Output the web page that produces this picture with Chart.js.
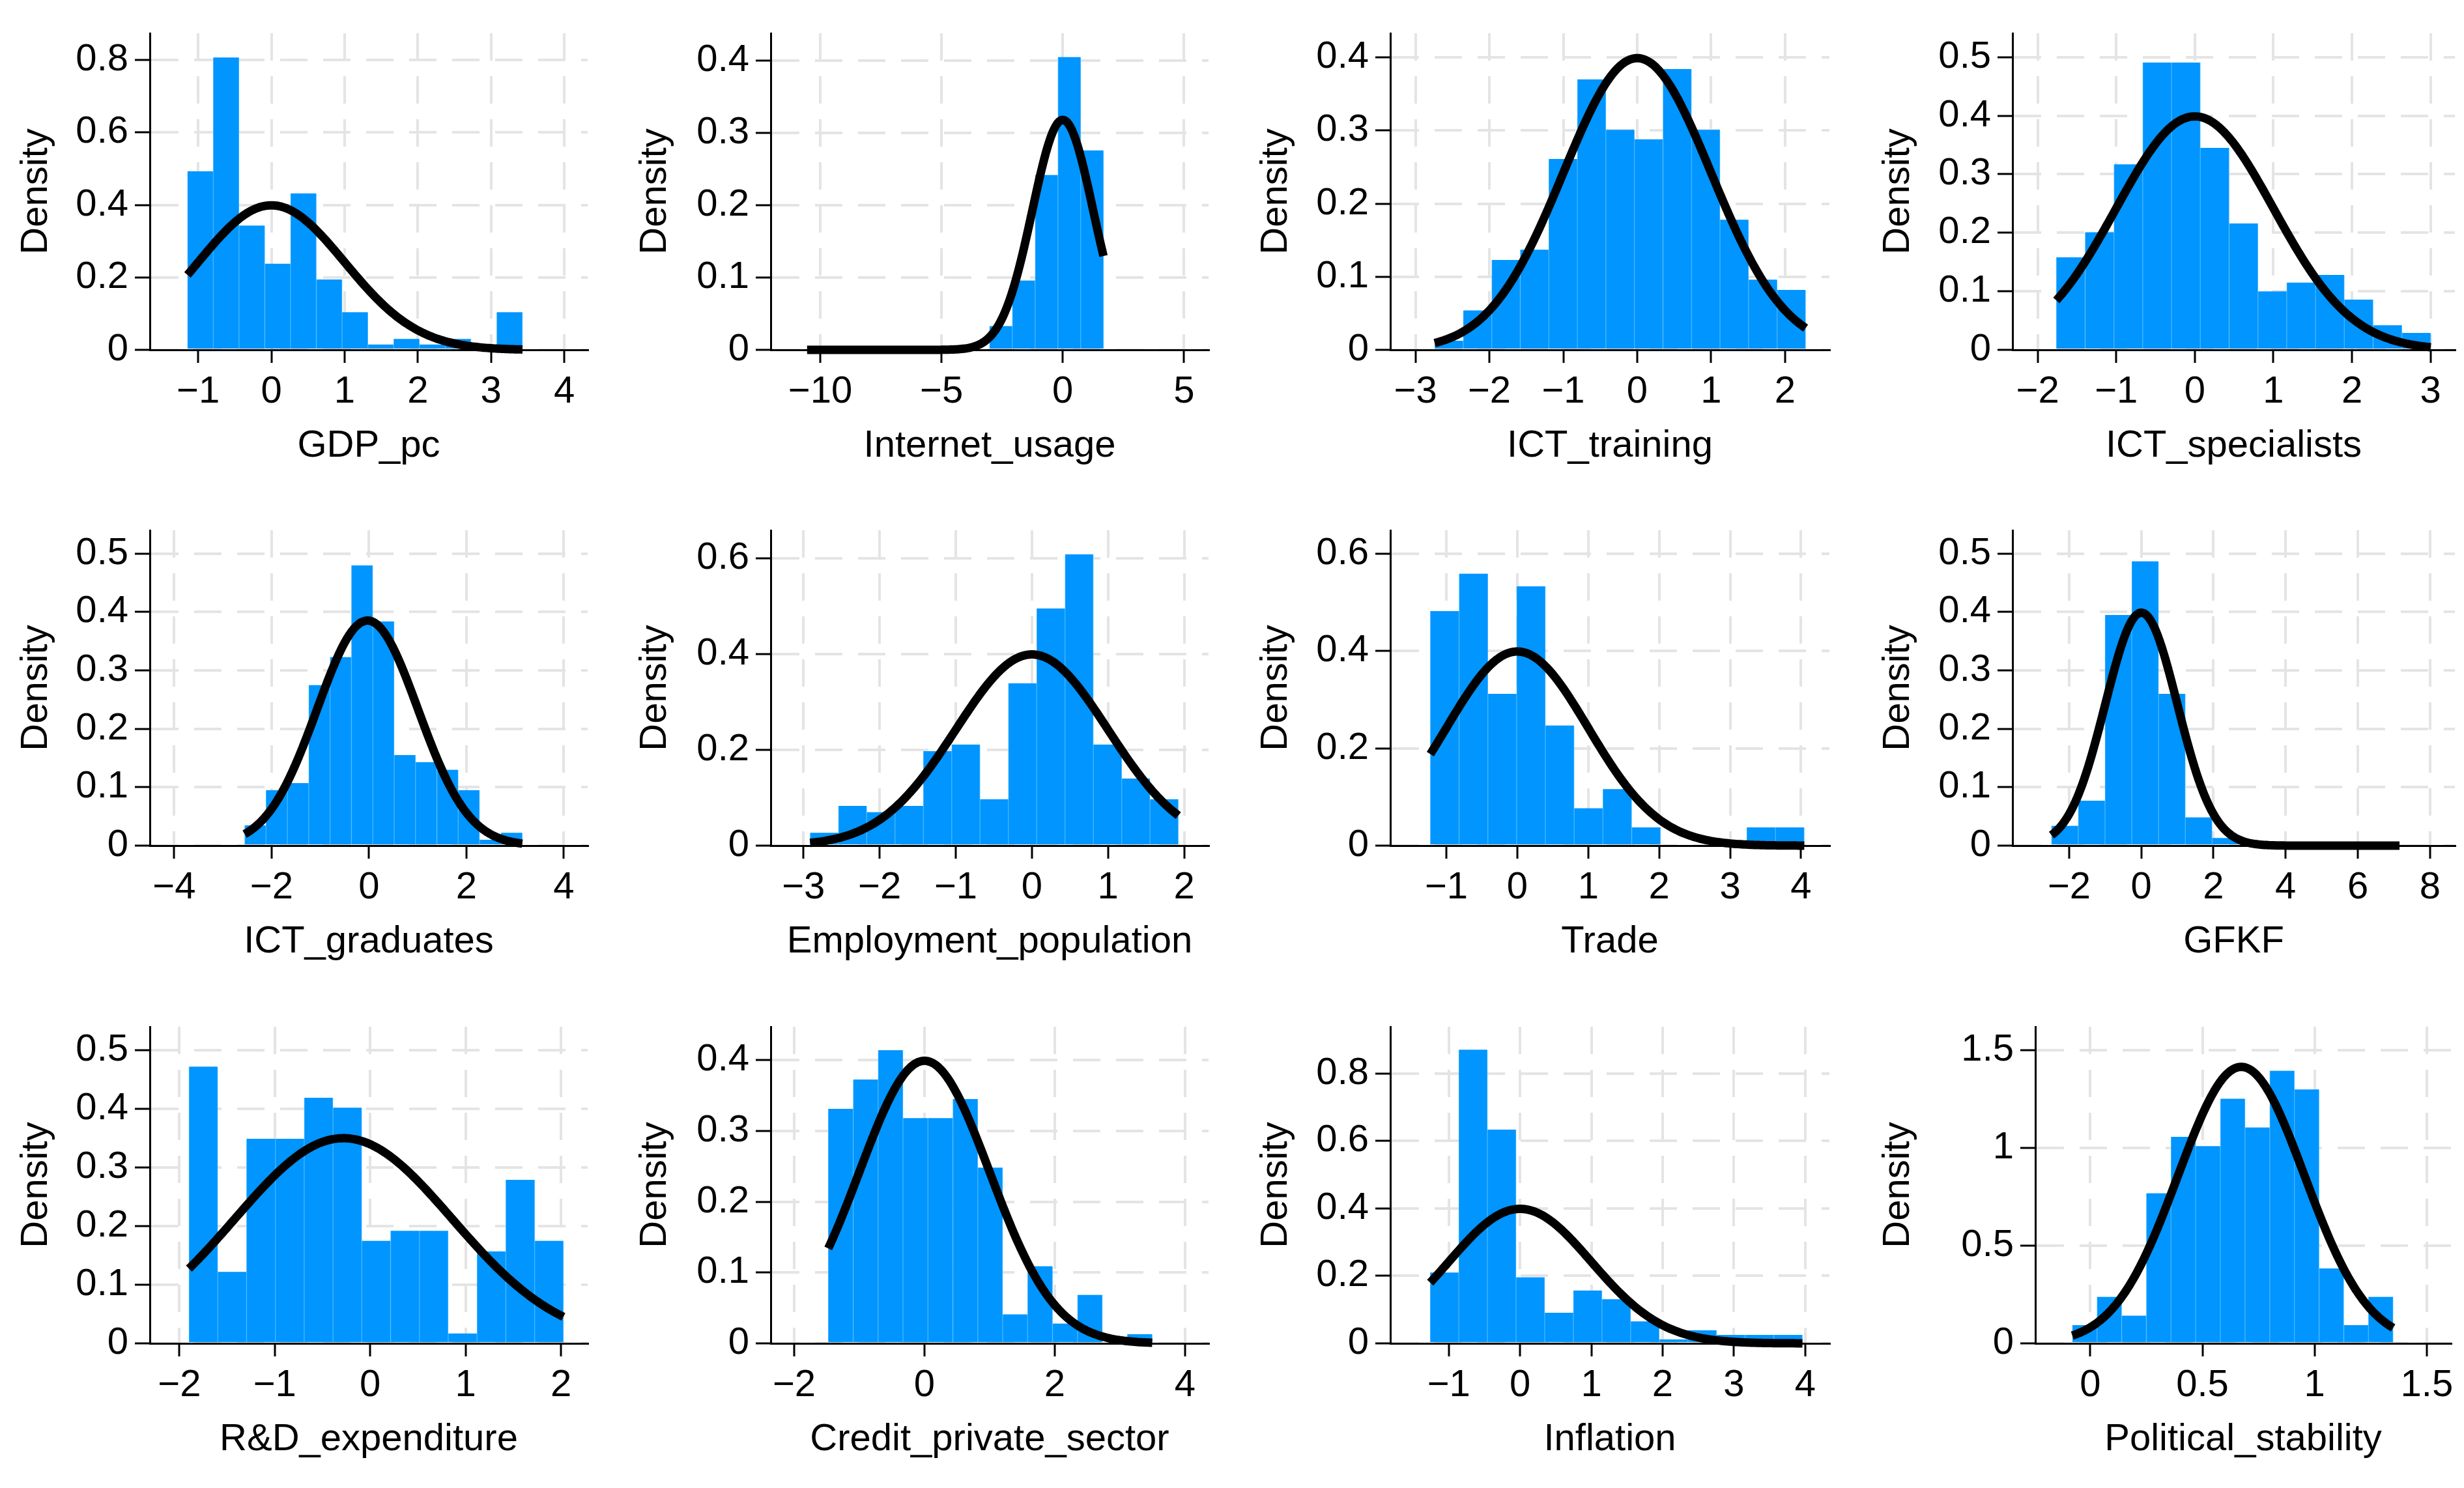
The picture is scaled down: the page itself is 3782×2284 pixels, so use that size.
<!DOCTYPE html>
<html>
<head>
<meta charset="utf-8">
<script src="https://cdn.jsdelivr.net/npm/chart.js@4.4.1/dist/chart.umd.min.js"></script>
<style>
html,body{margin:0;padding:0;background:#fff;}
body{width:3782px;height:2284px;position:relative;overflow:hidden;}
.panel{position:absolute;}
</style>
</head>
<body>
<script>
// ---------------- DATA ----------------
const variableNames = ['GDP_pc','Internet_usage','ICT_training','ICT_specialists',
  'ICT_graduates','Employment_population','Trade','GFKF',
  'R&D_expenditure','Credit_private_sector','Inflation','Political_stability'];

// histogram bins: first edge and bin width (data units), 13 bins each
const binStart = [-1.146, -10.54, -2.74, -1.762, -2.553, -2.913, -1.226, -2.49, -1.90, -1.477, -1.261, -0.080];
const binWidth = [0.352, 0.94, 0.386, 0.3665, 0.4385, 0.372, 0.4055, 0.742, 0.302, 0.3825, 0.4017, 0.110];

// bin densities
const densGDP         = [0.493, 0.807, 0.343, 0.238, 0.432, 0.194, 0.104, 0.015, 0.030, 0.015, 0.030, 0, 0.104];
const densInternet    = [0.0047, 0, 0, 0, 0, 0, 0, 0, 0.033, 0.096, 0.242, 0.405, 0.276];
const densTraining    = [0.0125, 0.054, 0.123, 0.137, 0.261, 0.370, 0.301, 0.288, 0.384, 0.301, 0.178, 0.096, 0.082];
const densSpecialists = [0.158, 0.201, 0.317, 0.491, 0.491, 0.345, 0.216, 0.100, 0.115, 0.128, 0.086, 0.042, 0.029];
const densGraduates   = [0.035, 0.095, 0.107, 0.275, 0.323, 0.480, 0.384, 0.155, 0.143, 0.130, 0.095, 0.010, 0.022];
const densEmployment  = [0.027, 0.083, 0.070, 0.083, 0.197, 0.211, 0.097, 0.339, 0.495, 0.608, 0.211, 0.140, 0.097];
const densTrade       = [0.482, 0.559, 0.312, 0.533, 0.247, 0.077, 0.116, 0.0375, 0, 0, 0.010, 0.0375, 0.0375];
const densGFKF        = [0.034, 0.077, 0.395, 0.487, 0.260, 0.0485, 0.013, 0, 0, 0, 0, 0, 0.004];
const densRD          = [0.472, 0.122, 0.349, 0.349, 0.419, 0.402, 0.175, 0.192, 0.192, 0.017, 0.157, 0.279, 0.175];
const densCredit      = [0.331, 0.3725, 0.414, 0.318, 0.318, 0.345, 0.248, 0.041, 0.109, 0.028, 0.0685, 0, 0.013];
const densInflation   = [0.210, 0.871, 0.634, 0.196, 0.091, 0.157, 0.131, 0.065, 0.012, 0.039, 0.025, 0.025, 0.025];
const densPolitical   = [0.093, 0.238, 0.142, 0.768, 1.057, 1.009, 1.252, 1.105, 1.395, 1.299, 0.383, 0.093, 0.238];

const densities = [densGDP, densInternet, densTraining, densSpecialists, densGraduates, densEmployment,
  densTrade, densGFKF, densRD, densCredit, densInflation, densPolitical];

// fitted normal overlay parameters (mean, sd)
const normalMean = [0, 0, 0, 0, -0.03, 0, 0, 0, -0.28, 0, 0, 0.673];
const normalSD   = [1, 1.254, 1, 1, 1.035, 1, 1, 1, 1.14, 1, 1, 0.282];

// tick values
const xTicks = [
  [-1,0,1,2,3,4], [-10,-5,0,5], [-3,-2,-1,0,1,2], [-2,-1,0,1,2,3],
  [-4,-2,0,2,4], [-3,-2,-1,0,1,2], [-1,0,1,2,3,4], [-2,0,2,4,6,8],
  [-2,-1,0,1,2], [-2,0,2,4], [-1,0,1,2,3,4], [0,0.5,1,1.5]
];
const yTicks = [
  [0,0.2,0.4,0.6,0.8], [0,0.1,0.2,0.3,0.4], [0,0.1,0.2,0.3,0.4], [0,0.1,0.2,0.3,0.4,0.5],
  [0,0.1,0.2,0.3,0.4,0.5], [0,0.2,0.4,0.6], [0,0.2,0.4,0.6], [0,0.1,0.2,0.3,0.4,0.5],
  [0,0.1,0.2,0.3,0.4,0.5], [0,0.1,0.2,0.3,0.4], [0,0.2,0.4,0.6,0.8], [0,0.5,1,1.5]
];
const yAxisTitle = 'Density';

// ---------------- SCALE LIMITS & LAYOUT ----------------
const xMin = [-1.66, -12.04, -3.34, -2.32, -4.50, -3.43, -1.79, -3.57, -2.31, -2.36, -1.82, -0.245];
const xMax = [4.32, 6.01, 2.60, 3.31, 4.49, 2.32, 4.40, 8.69, 2.28, 4.36, 4.34, 1.608];
const yMax = [0.874, 0.438, 0.433, 0.541, 0.54, 0.658, 0.648, 0.54, 0.54, 0.447, 0.939, 1.62];

const colTitleX = [56, 1006, 1959, 2914];
const colRight  = [902, 1855, 2808, 3768];
const plotLeft  = [230,1183,2134,3089, 230,1183,2134,3089, 230,1183,2134,3124];
const rowTop    = [51, 814, 1576];
const rowBottom = [537, 1298, 2062];
const PT = 45, PR = 14, XH = 185;

const FONT = {family: "'Liberation Sans', Arial, Helvetica, sans-serif", size: 58, lineHeight: 1};
const BAR_FILL = 'rgb(0,149,255)';
const BAR_EDGE = 'rgb(70,182,255)';
const GRID = '#e4e4e4';

Chart.defaults.color = '#000';

function fmt(v) {
  const s = String(Math.abs(v));
  return v < 0 ? '\u2212' + s : s;
}

for (let i = 0; i < 12; i++) {
  const c = i % 4, r = Math.floor(i / 4);
  const left = Math.round(colTitleX[c] - FONT.size / 2);
  const top = rowTop[r] - PT;
  const width = colRight[c] + PR - left;
  const height = rowBottom[r] + XH - top;
  const YW = plotLeft[i] - left;

  const div = document.createElement('div');
  div.className = 'panel';
  div.style.left = left + 'px';
  div.style.top = top + 'px';
  div.style.width = width + 'px';
  div.style.height = height + 'px';
  const cv = document.createElement('canvas');
  cv.width = width; cv.height = height;
  cv.style.width = width + 'px'; cv.style.height = height + 'px';
  div.appendChild(cv);
  document.body.appendChild(div);

  const dens = densities[i];
  const nb = dens.length;
  const bars = dens.map((d, k) => ({x: binStart[i] + (k + 0.5) * binWidth[i], y: d}));

  const lo = binStart[i], hi = binStart[i] + nb * binWidth[i];
  const mu = normalMean[i], sd = normalSD[i];
  const curve = [];
  const N = 180;
  for (let k = 0; k <= N; k++) {
    const x = lo + (hi - lo) * k / N;
    const z = (x - mu) / sd;
    curve.push({x: x, y: Math.exp(-0.5 * z * z) / (sd * Math.sqrt(2 * Math.PI))});
  }

  const xt = xTicks[i], yt = yTicks[i];

  new Chart(cv, {
    type: 'bar',
    data: {
      datasets: [
        {
          type: 'line', data: curve, borderColor: '#000', borderWidth: 13,
          pointRadius: 0, tension: 0, fill: false, order: 0, clip: 10,
          borderCapStyle: 'butt', borderJoinStyle: 'round'
        },
        {
          type: 'bar', data: bars, backgroundColor: BAR_FILL, borderColor: BAR_EDGE,
          borderWidth: {top: 0, left: 1, right: 1, bottom: 0}, borderSkipped: false,
          barPercentage: 1, categoryPercentage: 1, grouped: false, order: 1
        }
      ]
    },
    options: {
      responsive: false,
      animation: false,
      events: [],
      layout: {padding: {top: PT, right: PR, left: 0, bottom: 0}},
      plugins: {legend: {display: false}, tooltip: {enabled: false}, title: {display: false}},
      scales: {
        x: {
          type: 'linear', min: xMin[i], max: xMax[i], offset: false,
          grid: {display: true, offset: false, color: GRID, lineWidth: 4,
                 drawTicks: true, tickLength: 20, tickColor: '#000', tickWidth: 3, tickBorderDash: []},
          border: {display: true, color: '#000', width: 3, dash: [42, 24], z: 1},
          ticks: {autoSkip: false, maxRotation: 0, minRotation: 0, padding: 16, color: '#000',
                  font: FONT, callback: (v) => fmt(v)},
          title: {display: true, text: variableNames[i], font: FONT, color: '#000',
                  padding: {top: 0, bottom: 8}},
          afterBuildTicks: (s) => { s.ticks = xt.map(v => ({value: v})); },
          afterFit: (s) => { s.height = XH; }
        },
        y: {
          type: 'linear', min: 0, max: yMax[i], beginAtZero: true,
          grid: {display: true, color: GRID, lineWidth: 4,
                 drawTicks: true, tickLength: 23, tickColor: '#000', tickWidth: 3, tickBorderDash: []},
          border: {display: true, color: '#000', width: 3, dash: [42, 24], z: 1},
          ticks: {autoSkip: false, padding: 10, color: '#000', font: FONT, callback: (v) => fmt(v)},
          title: {display: true, text: yAxisTitle, font: FONT, color: '#000', padding: {top: 0, bottom: 0}},
          afterBuildTicks: (s) => { s.ticks = yt.map(v => ({value: v})); },
          afterFit: (s) => { s.width = YW; }
        }
      }
    }
  });
}
</script>
</body>
</html>
